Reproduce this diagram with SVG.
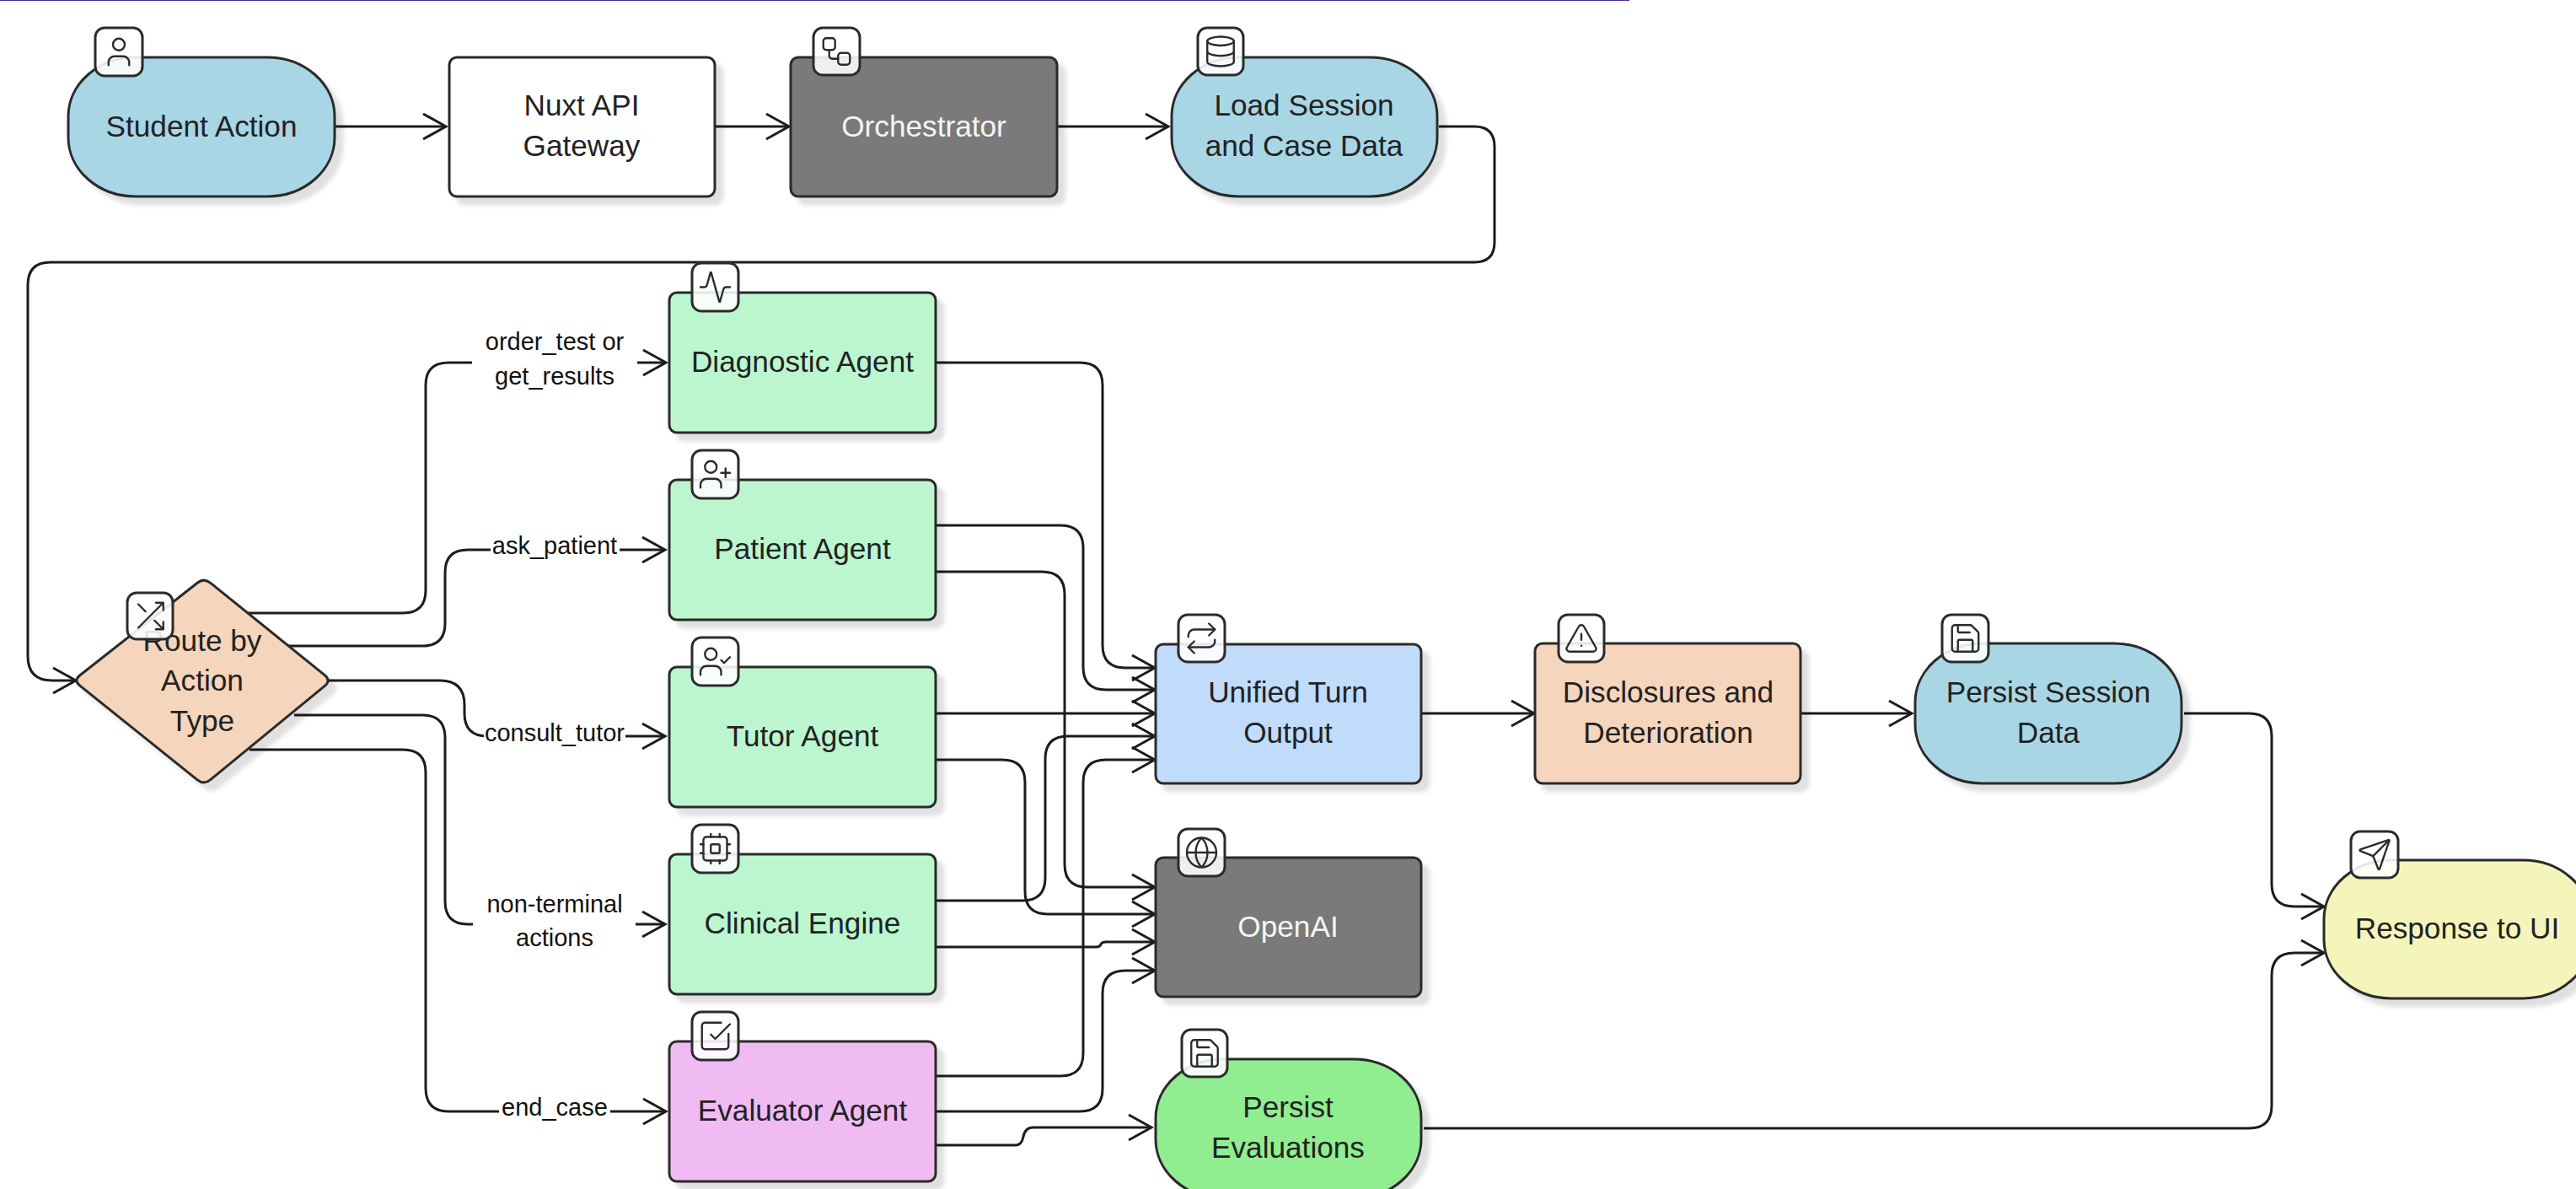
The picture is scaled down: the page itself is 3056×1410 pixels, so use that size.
<svg xmlns="http://www.w3.org/2000/svg" width="3056" height="1410" viewBox="0 0 3056 1410">
<style>
.n{stroke:#2b2b2b;stroke-width:3}
.t{font-family:"Liberation Sans",Arial,sans-serif;font-size:35.2px;fill:#222;text-anchor:middle}
.w{fill:#f5f5f5}
.l{font-family:"Liberation Sans",Arial,sans-serif;font-size:29px;fill:#111;text-anchor:middle}
.b{stroke:#2b2b2b;stroke-width:3;fill:#fff;fill-opacity:.88}
.i{fill:none;stroke:#2b2b2b;stroke-width:1.35;stroke-linecap:round;stroke-linejoin:round}
.c{fill:none;stroke:#1c1c1c;stroke-width:3}
.s{filter:url(#sh)}
</style>
<defs>
<filter id="sh" x="-10%" y="-10%" width="125%" height="125%"><feDropShadow dx="9" dy="9" stdDeviation="2.500" flood-color="#000" flood-opacity=".12"/></filter>
<marker id="a" markerUnits="userSpaceOnUse" markerWidth="40" markerHeight="40" viewBox="-30 -20 34 40" refX="0" refY="0" orient="auto"><path d="M-27 -15L0 0L-27 15" fill="none" stroke="#1c1c1c" stroke-width="3"/></marker>
<symbol id="user" viewBox="0 0 24 24"><path d="M19 21v-2a4 4 0 0 0-4-4H9a4 4 0 0 0-4 4v2"/><circle cx="12" cy="7" r="4"/></symbol>
<symbol id="workflow" viewBox="0 0 24 24"><rect x="3" y="3" width="8" height="8" rx="2"/><path d="M7 11v4a2 2 0 0 0 2 2h4"/><rect x="13" y="13" width="8" height="8" rx="2"/></symbol>
<symbol id="database" viewBox="0 0 24 24"><ellipse cx="12" cy="5" rx="9" ry="3"/><path d="M3 5V19A9 3 0 0 0 21 19V5"/><path d="M3 12A9 3 0 0 0 21 12"/></symbol>
<symbol id="activity" viewBox="0 0 24 24"><path d="M22 12h-2.48a2 2 0 0 0-1.93 1.46l-2.35 8.36a.25.25 0 0 1-.48 0L9.24 2.18a.25.25 0 0 0-.48 0l-2.35 8.36A2 2 0 0 1 4.49 12H2"/></symbol>
<symbol id="userplus" viewBox="0 0 24 24"><path d="M16 21v-2a4 4 0 0 0-4-4H6a4 4 0 0 0-4 4v2"/><circle cx="9" cy="7" r="4"/><path d="M19 8v6M22 11h-6"/></symbol>
<symbol id="usercheck" viewBox="0 0 24 24"><path d="M16 21v-2a4 4 0 0 0-4-4H6a4 4 0 0 0-4 4v2"/><circle cx="9" cy="7" r="4"/><path d="M16 11l2 2 4-4"/></symbol>
<symbol id="cpu" viewBox="0 0 24 24"><rect x="4" y="4" width="16" height="16" rx="2"/><rect x="9" y="9" width="6" height="6" rx="1"/><path d="M15 2v2M15 20v2M2 15h2M2 9h2M20 15h2M20 9h2M9 2v2M9 20v2"/></symbol>
<symbol id="check" viewBox="0 0 24 24"><path d="M21 10.500V19a2 2 0 0 1-2 2H5a2 2 0 0 1-2-2V5a2 2 0 0 1 2-2h11"/><path d="M9 11l3 3L22 4"/></symbol>
<symbol id="shuffle" viewBox="0 0 24 24"><path d="M16 3h5v5M4 20L21 3M21 16v5h-5M15 15l6 6M4 4l5 5"/></symbol>
<symbol id="repeat" viewBox="0 0 24 24"><path d="M17 2l4 4-4 4"/><path d="M3 11v-1a4 4 0 0 1 4-4h14"/><path d="M7 22l-4-4 4-4"/><path d="M21 13v1a4 4 0 0 1-4 4H3"/></symbol>
<symbol id="globe" viewBox="0 0 24 24"><circle cx="12" cy="12" r="10"/><path d="M12 2a14.500 14.500 0 0 0 0 20 14.500 14.500 0 0 0 0-20"/><path d="M2 12h20"/></symbol>
<symbol id="save" viewBox="0 0 24 24"><path d="M15.200 3a2 2 0 0 1 1.400.6l3.800 3.800a2 2 0 0 1 .6 1.400V19a2 2 0 0 1-2 2H5a2 2 0 0 1-2-2V5a2 2 0 0 1 2-2z"/><path d="M17 21v-7a1 1 0 0 0-1-1H8a1 1 0 0 0-1 1v7"/><path d="M7 3v4a1 1 0 0 0 1 1h7"/></symbol>
<symbol id="alert" viewBox="0 0 24 24"><path d="M21.730 18l-8-14a2 2 0 0 0-3.480 0l-8 14A2 2 0 0 0 4 21h16a2 2 0 0 0 1.730-3"/><path d="M12 9v4"/><path d="M12 17h.01"/></symbol>
<symbol id="send" viewBox="0 0 24 24"><path d="M14.536 21.686a.5.5 0 0 0 .937-.024l6.500-19a.496.496 0 0 0-.635-.635l-19 6.500a.5.5 0 0 0-.024.937l7.930 3.180a2 2 0 0 1 1.112 1.112z"/><path d="M21.854 2.147l-10.940 10.939"/></symbol>
</defs>
<rect width="3056" height="1410" fill="#fff"/>
<rect x="0" y="0" width="1933" height="1" fill="#4b2a90"/>
<g id="connectors">
<path class="c" marker-end="url(#a)" d="M398 150H529"/>
<path class="c" marker-end="url(#a)" d="M848 150H936"/>
<path class="c" marker-end="url(#a)" d="M1254 150H1386"/>
<path class="c" marker-end="url(#a)" d="M1707 150H1749Q1773 150 1773 174V287Q1773 311 1749 311H60Q33 311 33 338V778Q33 807 62 807H90"/>
<path class="c" marker-end="url(#a)" d="M293 727H478Q505 727 505 700V457Q505 430 532 430H790"/>
<path class="c" marker-end="url(#a)" d="M342 766H501Q528 766 528 739V679Q528 652 555 652H789"/>
<path class="c" marker-end="url(#a)" d="M389 807H522Q551 807 551 836V846Q551 873 578 873H789"/>
<path class="c" marker-end="url(#a)" d="M349 848H501Q528 848 528 875V1069Q528 1096 555 1096H789"/>
<path class="c" marker-end="url(#a)" d="M296 889H478Q505 889 505 916V1290Q505 1318 532 1318H790"/>
<path class="c" marker-end="url(#a)" d="M1110 430H1281Q1308 430 1308 457V765Q1308 792 1335 792H1370"/>
<path class="c" marker-end="url(#a)" d="M1110 623H1258Q1285 623 1285 650V791Q1285 818 1312 818H1370"/>
<path class="c" marker-end="url(#a)" d="M1110 678H1236Q1263 678 1263 705V1025Q1263 1052 1290 1052H1370"/>
<path class="c" marker-end="url(#a)" d="M1110 846H1370"/>
<path class="c" marker-end="url(#a)" d="M1110 1068H1213Q1240 1068 1240 1041V900Q1240 873 1267 873H1370"/>
<path class="c" marker-end="url(#a)" d="M1110 901H1189Q1216 901 1216 928V1057Q1216 1084 1243 1084H1370"/>
<path class="c" marker-end="url(#a)" d="M1110 1123H1300Q1305 1123 1306 1120Q1307 1117 1312 1117H1370"/>
<path class="c" marker-end="url(#a)" d="M1110 1276H1258Q1285 1276 1285 1249V928Q1285 901 1312 901H1370"/>
<path class="c" marker-end="url(#a)" d="M1110 1318H1281Q1308 1318 1308 1291V1178Q1308 1151 1335 1151H1370"/>
<path class="c" marker-end="url(#a)" d="M1110 1358H1205Q1212 1358 1214 1348Q1216 1337 1226 1337H1366"/>
<path class="c" marker-end="url(#a)" d="M1686 846H1820"/>
<path class="c" marker-end="url(#a)" d="M2136 846H2268"/>
<path class="c" marker-end="url(#a)" d="M2591 846H2668Q2695 846 2695 873V1048Q2695 1075 2722 1075H2757"/>
<path class="c" marker-end="url(#a)" d="M1689 1338H2668Q2695 1338 2695 1311V1157Q2695 1130 2722 1130H2757"/>
</g>
<g id="edge-labels">
<g><rect x="560" y="392" width="196" height="78" fill="#fff"/><text class="l" x="658" y="415">order_test or</text><text class="l" x="658" y="456">get_results</text></g>
<g><rect x="582" y="630" width="153" height="44" fill="#fff"/><text class="l" x="658" y="657">ask_patient</text></g>
<g><rect x="574" y="852" width="168" height="44" fill="#fff"/><text class="l" x="658" y="879">consult_tutor</text></g>
<g><rect x="561" y="1055" width="193" height="80" fill="#fff"/><text class="l" x="658" y="1082">non-terminal</text><text class="l" x="658" y="1122">actions</text></g>
<g><rect x="592" y="1296" width="132" height="44" fill="#fff"/><text class="l" x="658" y="1323">end_case</text></g>
</g>
<g id="student-action"><rect class="n s" x="81" y="68" width="316" height="165" rx="80" ry="70" fill="#a9d6e5"/><text class="t" x="239" y="162">Student Action</text><rect class="b" x="113" y="33" width="56" height="57" rx="11"/><use href="#user" class="i" x="120" y="40.500" width="42" height="42"/></g>
<g id="nuxt-api-gateway"><rect class="n s" x="533" y="68" width="315" height="165" rx="9" fill="#fff"/><text class="t" x="690" y="137">Nuxt API</text><text class="t" x="690" y="185">Gateway</text></g>
<g id="orchestrator"><rect class="n s" x="938" y="68" width="316" height="165" rx="9" fill="#7a7a7a"/><text class="t w" x="1096" y="162">Orchestrator</text><rect class="b" x="965" y="33" width="55" height="56" rx="11"/><use href="#workflow" class="i" x="971.500" y="40" width="42" height="42"/></g>
<g id="load-session"><rect class="n s" x="1390" y="68" width="315" height="165" rx="80" ry="70" fill="#a9d6e5"/><text class="t" x="1547" y="137">Load Session</text><text class="t" x="1547" y="185">and Case Data</text><rect class="b" x="1421" y="33" width="54" height="56" rx="11"/><use href="#database" class="i" x="1427" y="40" width="42" height="42"/></g>
<g id="route"><path class="n s" fill="#f5d5bb" d="M249.800 691.300L385.200 800.700Q393 807 385.300 813.400L249.700 924.600Q242 931 234.200 924.800L94.800 813.200Q87 807 94.900 800.800L234.100 691.200Q242 685 249.800 691.300Z"/><text class="t" x="240" y="772">Route by</text><text class="t" x="240" y="819">Action</text><text class="t" x="240" y="867">Type</text><rect class="b" x="151" y="703" width="54" height="55" rx="11"/><use href="#shuffle" class="i" x="157" y="709.500" width="42" height="42"/></g>
<g id="diagnostic-agent"><rect class="n s" x="794" y="347" width="316" height="166" rx="9" fill="#bbf6cf"/><text class="t" x="952" y="441">Diagnostic Agent</text><rect class="b" x="821" y="312" width="55" height="57" rx="11"/><use href="#activity" class="i" x="827.500" y="319.500" width="42" height="42"/></g>
<g id="patient-agent"><rect class="n s" x="794" y="569" width="316" height="166" rx="9" fill="#bbf6cf"/><text class="t" x="952" y="663">Patient Agent</text><rect class="b" x="821" y="534" width="55" height="57" rx="11"/><use href="#userplus" class="i" x="827.500" y="541.500" width="42" height="42"/></g>
<g id="tutor-agent"><rect class="n s" x="794" y="791" width="316" height="166" rx="9" fill="#bbf6cf"/><text class="t" x="952" y="885">Tutor Agent</text><rect class="b" x="821" y="756" width="55" height="57" rx="11"/><use href="#usercheck" class="i" x="827.500" y="763.500" width="42" height="42"/></g>
<g id="clinical-engine"><rect class="n s" x="794" y="1013" width="316" height="166" rx="9" fill="#bbf6cf"/><text class="t" x="952" y="1107">Clinical Engine</text><rect class="b" x="821" y="978" width="55" height="57" rx="11"/><use href="#cpu" class="i" x="827.500" y="985.500" width="42" height="42"/></g>
<g id="evaluator-agent"><rect class="n s" x="794" y="1235" width="316" height="166" rx="9" fill="#f0bbf2"/><text class="t" x="952" y="1329">Evaluator Agent</text><rect class="b" x="821" y="1200" width="55" height="57" rx="11"/><use href="#check" class="i" x="827.500" y="1207.500" width="42" height="42"/></g>
<g id="unified-turn-output"><rect class="n s" x="1371" y="764" width="315" height="165" rx="9" fill="#c1dbfa"/><text class="t" x="1528" y="833">Unified Turn</text><text class="t" x="1528" y="881">Output</text><rect class="b" x="1398" y="729" width="55" height="56" rx="11"/><use href="#repeat" class="i" x="1404.500" y="736" width="42" height="42"/></g>
<g id="openai"><rect class="n s" x="1371" y="1017" width="315" height="165" rx="9" fill="#7a7a7a"/><text class="t w" x="1528" y="1111">OpenAI</text><rect class="b" x="1398" y="983" width="55" height="56" rx="11"/><use href="#globe" class="i" x="1404.500" y="990" width="42" height="42"/></g>
<g id="persist-evaluations"><rect class="n s" x="1371" y="1256" width="315" height="165" rx="80" ry="70" fill="#90ee90"/><text class="t" x="1528" y="1325">Persist</text><text class="t" x="1528" y="1373">Evaluations</text><rect class="b" x="1402" y="1221" width="54" height="56" rx="11"/><use href="#save" class="i" x="1408" y="1228" width="42" height="42"/></g>
<g id="disclosures"><rect class="n s" x="1821" y="763" width="315" height="166" rx="9" fill="#f5d5bb"/><text class="t" x="1979" y="833">Disclosures and</text><text class="t" x="1979" y="881">Deterioration</text><rect class="b" x="1849" y="729" width="54" height="56" rx="11"/><use href="#alert" class="i" x="1855" y="736" width="42" height="42"/></g>
<g id="persist-session"><rect class="n s" x="2272" y="763" width="316" height="166" rx="80" ry="70" fill="#a9d6e5"/><text class="t" x="2430" y="833">Persist Session</text><text class="t" x="2430" y="881">Data</text><rect class="b" x="2304" y="729" width="55" height="56" rx="11"/><use href="#save" class="i" x="2310.500" y="736" width="42" height="42"/></g>
<g id="response-to-ui"><rect class="n s" x="2757" y="1020" width="316" height="164" rx="80" ry="70" fill="#f5f5bb"/><text class="t" x="2915" y="1113">Response to UI</text><rect class="b" x="2789" y="986" width="56" height="55" rx="11"/><use href="#send" class="i" x="2796" y="992.500" width="42" height="42"/></g>
</svg>
